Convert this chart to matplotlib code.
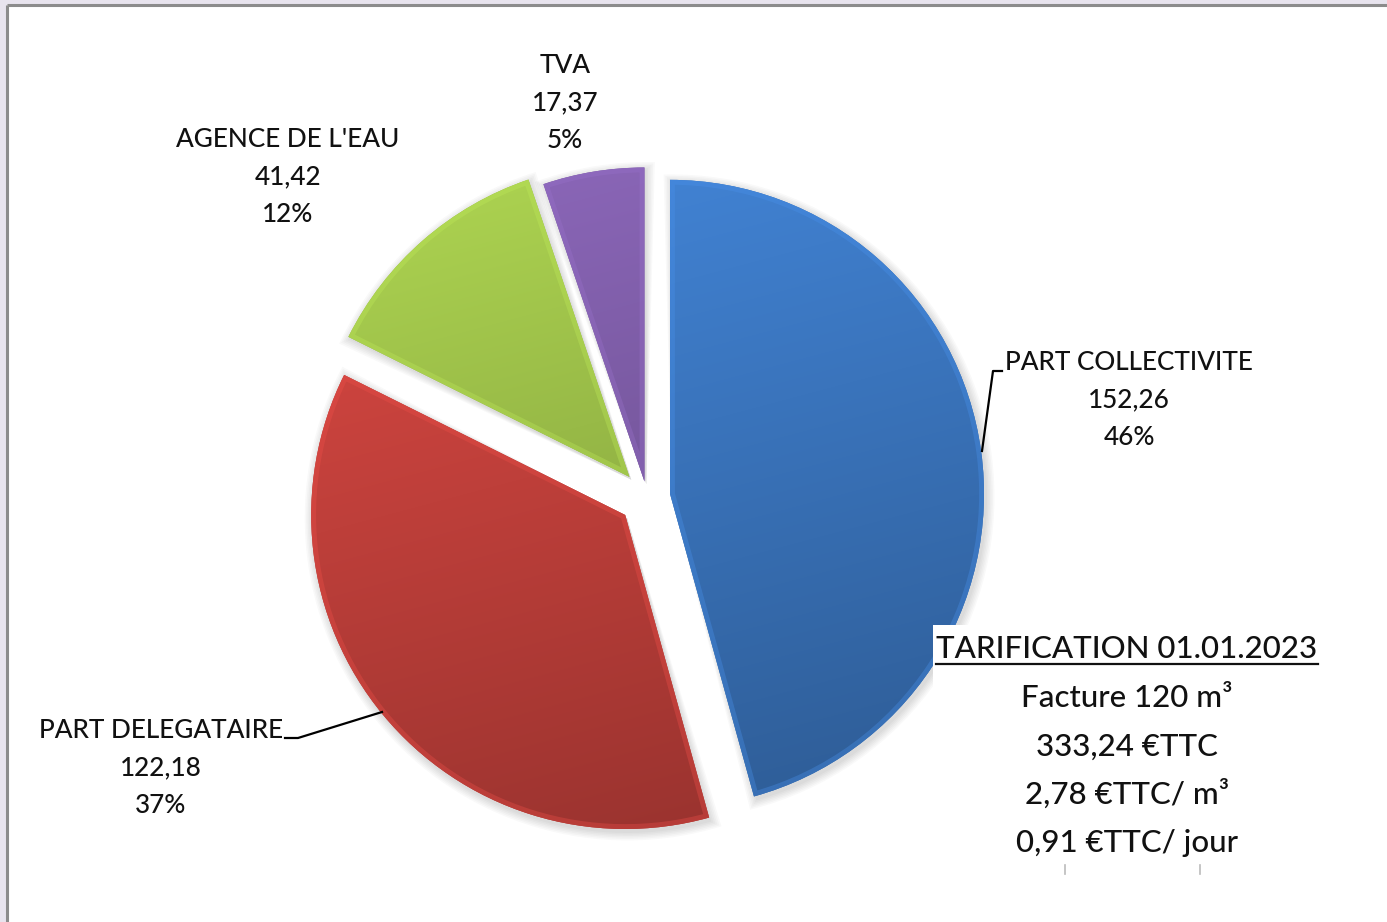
import numpy as np
import matplotlib
matplotlib.use("Agg")
import matplotlib.pyplot as plt
from matplotlib.patches import Wedge, Rectangle
from matplotlib.colors import to_rgb

# ---- data ----
categories = ["PART COLLECTIVITE", "PART DELEGATAIRE", "AGENCE DE L'EAU", "TVA"]
amounts = [152.26, 122.18, 41.42, 17.37]
slice_colors = ["#3A74BC", "#BE3F3A", "#98BA47", "#7A5AA2"]
explode_frac = [0.074, 0.09, 0.085, 0.05]

summary_title = "TARIFICATION 01.01.2023"
summary_lines = ["Facture 120 m³", "333,24 €TTC", "2,78 €TTC/ m³", "0,91 €TTC/ jour"]

W, H = 1387, 922
plt.rcParams["font.family"] = ["Lato", "DejaVu Sans"]

fig = plt.figure(figsize=(W / 100, H / 100), dpi=100, facecolor="#E8E4EE")
ax = fig.add_axes([0, 0, 1, 1])


def Y(y):
    # screen-style y (down) to axes y (up)
    return H - y


# white panel with grey top/left rule
ax.add_patch(Rectangle((7, 0), W - 7, Y(5), facecolor="white", edgecolor="none", zorder=0))
ax.plot([6.5, W], [Y(5), Y(5)], color="#8C8C8C", lw=2.2, zorder=1, solid_capstyle="butt")
ax.plot([6.5, 6.5], [0, Y(5)], color="#8C8C8C", lw=2.2, zorder=1, solid_capstyle="butt")

center = (647, Y(497))
radius = 314
# pie explode offsets are in data units
explode = [f * radius for f in explode_frac]
wedges, _ = ax.pie(amounts, colors=slice_colors, startangle=90, counterclock=False,
                   radius=radius, center=center, explode=explode,
                   wedgeprops=dict(linewidth=0, zorder=3), frame=True)

# soft drop shadows
for w in wedges:
    cx, cy = w.center
    for k in range(6):
        ax.add_patch(Wedge((cx + 2, cy - 3), w.r + 1 + k * 1.5, w.theta1 - 0.3 * k, w.theta2 + 0.3 * k,
                           facecolor="#000000", alpha=0.022, edgecolor="none", zorder=2))

# gradient shading clipped to each slice
gx = np.linspace(0, 1, 300)
gy = np.linspace(0, 1, 300)
GX, GY = np.meshgrid(gx, gy)
for w, col in zip(wedges, slice_colors):
    cx, cy = w.center
    base = np.array(to_rgb(col))
    # light at the top-left, darker towards the bottom-right
    f = 1.16 - 0.30 * GY - 0.08 * GX
    img = np.clip(base[None, None, :] * f[..., None], 0, 1)
    ext = [cx - w.r - 5, cx + w.r + 5, cy - w.r - 5, cy + w.r + 5]
    im = ax.imshow(img, extent=ext, origin="upper", zorder=4, interpolation="bilinear")
    im.set_clip_path(w)
    # soft bevel along the slice border
    hl = Wedge(w.center, w.r, w.theta1, w.theta2, facecolor="none",
               edgecolor=tuple(np.clip(base * 1.25, 0, 1)), lw=7, alpha=0.35, zorder=5)
    ax.add_patch(hl)
    hl.set_clip_path(w)

ax.set_xlim(0, W)
ax.set_ylim(0, H)
ax.set_aspect("equal")
ax.axis("off")

total = sum(amounts)
fs = 18.8
line_gap = 37.5
txt_color = "#111111"
label_pos = {  # centre x, baseline of first line
    "PART COLLECTIVITE": (1129, 370),
    "PART DELEGATAIRE": (161, 738),
    "AGENCE DE L'EAU": (288, 147),
    "TVA": (565, 73),
}
for name, val in zip(categories, amounts):
    x0, y0 = label_pos[name]
    lines = [name, f"{val:.2f}".replace(".", ","), f"{round(100 * val / total):d}%"]
    for i, s in enumerate(lines):
        ax.text(x0, Y(y0 + i * line_gap), s, ha="center", va="baseline",
                fontsize=fs, color=txt_color, fontweight="medium", zorder=10)

# leader lines
ax.plot([982, 993, 1002], [Y(451), Y(371), Y(371)], color="black", lw=1.6, zorder=9)
ax.plot([285, 298, 382], [Y(738), Y(738), Y(712)], color="black", lw=1.6, zorder=9)

# summary block on a white panel
ax.add_patch(Rectangle((933, Y(922)), 430, 922 - 625, facecolor="white", edgecolor="none", zorder=8))
fs2 = 22.5
t = ax.text(1127, Y(658), summary_title, ha="center", va="baseline", fontsize=fs2,
            color=txt_color, fontweight="medium", zorder=10)
fig.canvas.draw()
bb = t.get_window_extent(renderer=fig.canvas.get_renderer())
ax.plot([bb.x0, bb.x1], [Y(664), Y(664)], color=txt_color, lw=1.6, zorder=10)
for i, s in enumerate(summary_lines):
    ax.text(1127, Y(707 + i * 48.3), s, ha="center", va="baseline", fontsize=fs2,
            color=txt_color, fontweight="medium", zorder=10)

# small grey tick marks under the block
for xx in (1065, 1200):
    ax.plot([xx, xx], [Y(865), Y(874)], color="#BBBBBB", lw=1.2, zorder=10)

fig.savefig("out.png", dpi=100, facecolor=fig.get_facecolor())
